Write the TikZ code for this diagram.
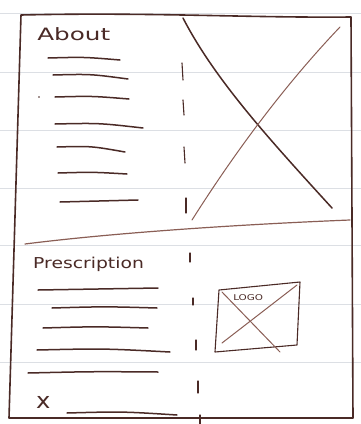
\documentclass[tikz,border=0pt]{standalone}
\usepackage{fontspec}
\setsansfont{DejaVu Sans}
\definecolor{ink}{HTML}{4A2A26}
\definecolor{inklight}{HTML}{8A5E55}
\definecolor{paper}{HTML}{DCDFE4}
\begin{document}
\begin{tikzpicture}[x=1pt,y=-1pt,
  frame/.style={ink,line width=1.6pt,line cap=round,line join=round},
  txtline/.style={ink,line width=1.5pt,line cap=round},
  thinline/.style={inklight,line width=1pt,line cap=round},
  dashmark/.style={ink,line width=1.1pt,line cap=round},
  rule/.style={paper,line width=0.5pt},
  hand/.style={ink,font=\sffamily,inner sep=0pt,anchor=west}]
\useasboundingbox (0,0) rectangle (361,424);
\fill[white] (0,0) rectangle (361,424);
% faint paper rules
\foreach \y in {13,72,130,188,245,304,362}
  \draw[rule] (0,\y) -- (361,\y);
% outer frame
\draw[frame] (21,15) .. controls (150,12) and (250,18) .. (351,17)
  -- (353,418) -- (9,418) -- cycle;
% horizontal divider
\draw[thinline,line width=1.2pt] (25,244) .. controls (120,232) and (250,224) .. (350,220);
% vertical dashes
\foreach \a/\b/\xa/\xb in {63/80/182/183,100/115/183/184,147/163/184/185,198/213/186/186,
  253/262/190/190,298/305/193/193,340/350/196/196,381/393/198/198,415/424/200/200}
  \draw[dashmark] (\xa,\a) -- (\xb,\b);
% big X placeholder
\draw[ink,line width=1.5pt,line cap=round] (183,18) .. controls (215,80) and (270,140) .. (332,208);
\draw[thinline] (340,27) .. controls (280,90) and (230,160) .. (192,220);
% About
\node[hand,font=\sffamily\fontsize{17}{17}\selectfont,xscale=1.45] (about) at (37,34) {About};
\foreach \xa/\ya/\xb/\yb in {48/58/120/60, 53/75/128/79, 55/97/129/99, 55/124/143/128,
  57/147/125/152, 58/173/127/174, 60/202/138/200}
  \draw[txtline] (\xa,\ya) .. controls ({(\xa+\xb)/2},{\ya-1}) .. (\xb,\yb);
\fill[ink] (39,97) circle (0.8);
% Prescription
\node[hand,font=\sffamily\fontsize{15}{15}\selectfont,xscale=1.25] (presc) at (33,264) {Prescription};
\foreach \xa/\ya/\xb/\yb in {38/290/158/288, 52/308/157/308, 43/328/148/328,
  37/350/170/352, 28/373/158/372, 67/413/177/415}
  \draw[txtline] (\xa,\ya) .. controls ({(\xa+\xb)/2},{\ya-1.5}) .. (\xb,\yb);
\node[hand,font=\sffamily\fontsize{22}{22}\selectfont,xscale=1.1] (xmark) at (36,402) {x};
% logo box
\draw[ink,line width=1.1pt,line join=round] (219,290) -- (300,282) -- (297,345) -- (215,352) -- cycle;
\draw[thinline] (222,292) -- (280,352);
\draw[thinline] (297,285) -- (222,343);
\node[hand,font=\sffamily\fontsize{8}{8}\selectfont,xscale=1.3] (logo) at (233,298) {LOGO};
\end{tikzpicture}
\end{document}
